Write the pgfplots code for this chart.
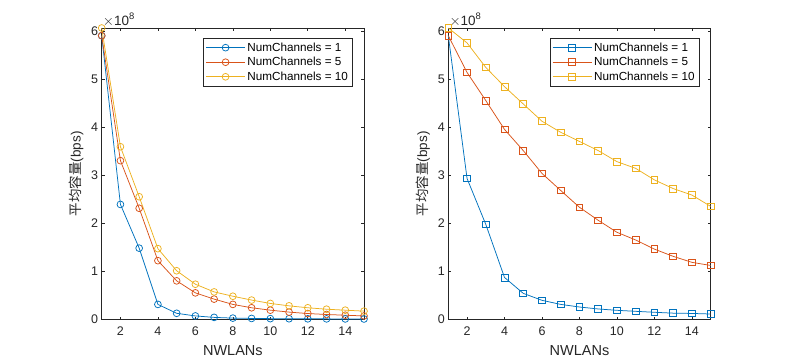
\documentclass[border=0pt]{standalone}
\usepackage{pgfplots}
\pgfplotsset{compat=1.18}
\usepackage{fontspec}
\setmainfont{Liberation Sans}
\newfontfamily\cjk{Noto Sans CJK SC}
\definecolor{mb}{rgb}{0,0.447,0.741}
\definecolor{mr}{rgb}{0.85,0.325,0.098}
\definecolor{my}{rgb}{0.929,0.694,0.125}
\definecolor{ax}{rgb}{0.15,0.15,0.15}
\pgfplotsset{
  mystyle/.style={
    scale only axis, width=262.3bp, height=291.3bp,
    xmin=1, xmax=15, ymin=0, ymax=6.06,
    xtick={2,4,...,14}, ytick={0,1,...,6},
    tick align=inside, tick pos=both, major tick length=2.8bp,
    axis line style={ax, line width=0.6bp}, tick style={ax, line width=0.6bp},
    ticklabel style={font=\fontsize{12.5bp}{14bp}\selectfont, text=ax},
    xticklabel style={yshift=-4bp},
    /pgf/number format/assume math mode=true,
    xlabel={NWLANs}, xlabel style={font=\fontsize{14.5bp}{16bp}\selectfont, text=ax, yshift=-3bp},
    ylabel={\cjk 平均容量\rmfamily(bps)}, ylabel style={font=\fontsize{13.5bp}{16bp}\selectfont, text=ax, yshift=1bp},
    clip=false,
    every axis plot/.append style={line width=0.75bp, mark size=3.4bp, mark options={solid, line width=0.75bp, fill=none}},
    legend style={at={(rel axis cs:0.957,0.966)}, anchor=north east, draw=ax, line width=0.6bp,
      font=\fontsize{11.7bp}{14bp}\selectfont, text=black, row sep=0.6bp, inner sep=2.5bp, cells={anchor=west}},
    legend image code/.code={\draw[mark repeat=2,mark phase=2] plot coordinates {(0bp,0bp) (19.5bp,0bp) (39bp,0bp)};},
  }
}
\begin{document}
\begin{tikzpicture}[x=1bp,y=1bp]
\useasboundingbox (0,0) rectangle (785,363);
\begin{axis}[mystyle, at={(101.7bp,43.7bp)}, anchor=south west]
\addplot[mb, mark=o] coordinates {(1,5.90) (2,2.39) (3,1.48) (4,0.31) (5,0.125) (6,0.07) (7,0.04) (8,0.025) (9,0.018) (10,0.014) (11,0.012) (12,0.01) (13,0.009) (14,0.008) (15,0.007)};
\addplot[mr, mark=o] coordinates {(1,5.90) (2,3.30) (3,2.31) (4,1.22) (5,0.80) (6,0.55) (7,0.42) (8,0.31) (9,0.24) (10,0.19) (11,0.15) (12,0.12) (13,0.10) (14,0.085) (15,0.07)};
\addplot[my, mark=o] coordinates {(1,6.06) (2,3.59) (3,2.55) (4,1.47) (5,1.01) (6,0.73) (7,0.57) (8,0.48) (9,0.40) (10,0.33) (11,0.28) (12,0.24) (13,0.21) (14,0.19) (15,0.17)};
\legend{NumChannels = 1, NumChannels = 5, NumChannels = 10}
\node[anchor=south west, font=\fontsize{13.5bp}{15bp}\selectfont, text=ax, inner sep=0pt, xshift=1bp, yshift=1.5bp] at (rel axis cs:0,1) {$\times$10\textsuperscript{8}};
\end{axis}
\begin{axis}[mystyle, at={(448.3bp,43.7bp)}, anchor=south west]
\addplot[mb, mark=square] coordinates {(1,5.90) (2,2.93) (3,1.975) (4,0.87) (5,0.54) (6,0.395) (7,0.31) (8,0.256) (9,0.215) (10,0.187) (11,0.166) (12,0.146) (13,0.128) (14,0.122) (15,0.11)};
\addplot[mr, mark=square] coordinates {(1,5.90) (2,5.135) (3,4.55) (4,3.95) (5,3.51) (6,3.035) (7,2.68) (8,2.33) (9,2.06) (10,1.81) (11,1.65) (12,1.46) (13,1.31) (14,1.185) (15,1.12)};
\addplot[my, mark=square] coordinates {(1,6.06) (2,5.75) (3,5.24) (4,4.84) (5,4.48) (6,4.12) (7,3.89) (8,3.70) (9,3.51) (10,3.28) (11,3.14) (12,2.90) (13,2.72) (14,2.585) (15,2.35)};
\legend{NumChannels = 1, NumChannels = 5, NumChannels = 10}
\node[anchor=south west, font=\fontsize{13.5bp}{15bp}\selectfont, text=ax, inner sep=0pt, xshift=1bp, yshift=1.5bp] at (rel axis cs:0,1) {$\times$10\textsuperscript{8}};
\end{axis}
\end{tikzpicture}
\end{document}
